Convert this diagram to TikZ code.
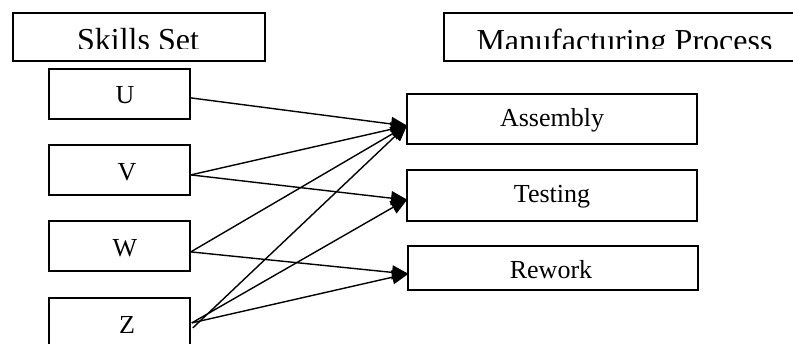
\documentclass[tikz,border=0pt]{standalone}
\usepackage{fontspec}
\setmainfont{Liberation Serif}
\usetikzlibrary{arrows.meta}
\begin{document}
\begin{tikzpicture}[x=1pt,y=-1pt,
  box/.style={draw,line width=1.8pt,inner sep=0pt,anchor=north west},
  lbl/.style={inner sep=0pt,anchor=base,font=\fontsize{26}{26}\selectfont},
  hdr/.style={inner sep=0pt,anchor=base,font=\fontsize{32}{32}\selectfont},
  arr/.style={line width=1.4pt,shorten >=-2pt,-{Triangle[length=17pt,width=14pt]}}]
\clip (0,0) rectangle (793,344);
% headers
\node[box,minimum width=252pt,minimum height=48pt] (skills) at (12,12) {};
\node[box,minimum width=363pt,minimum height=48pt] (mfg) at (443,12) {};
\begin{scope}
  \clip (12,12) rectangle (800,49);
  \node[hdr] (skillst) at (138,51) {Skills Set};
  \node[hdr] (mfgt) at (624.5,52) {Manufacturing Process};
\end{scope}
% left boxes
\node[box,minimum width=141pt,minimum height=50pt] (u) at (48,68) {};
\node[box,minimum width=141pt,minimum height=50pt] (v) at (48,144) {};
\node[box,minimum width=141pt,minimum height=50pt] (w) at (48,220) {};
\node[box,minimum width=141pt,minimum height=50pt] (z) at (48,297) {};
\node[lbl] (ut) at (125,104) {U};
\node[lbl] (vt) at (127,181) {V};
\node[lbl] (wt) at (125,257) {W};
\node[lbl] (zt) at (127,334) {Z};
% right boxes
\node[box,minimum width=290pt,minimum height=50pt] (asm) at (406,93) {};
\node[box,minimum width=290pt,minimum height=51pt] (tst) at (406,169) {};
\node[box,minimum width=290pt,minimum height=44pt] (rwk) at (407,245) {};
\node[lbl] (asmt) at (552,127) {Assembly};
\node[lbl] (tstt) at (552,203) {Testing};
\node[lbl] (rwkt) at (551,279) {Rework};
% connectors
\draw[arr] ([yshift=-4pt]u.east) -- ([yshift=-7pt]asm.west);
\draw[arr] ([yshift=-5pt]v.east) -- ([yshift=-7pt]asm.west);
\draw[arr] ([yshift=-5pt]v.east) -- ([yshift=-4.5pt]tst.west);
\draw[arr] ([yshift=-6pt]w.east) -- ([yshift=-7pt]asm.west);
\draw[arr] ([yshift=-6pt]w.east) -- ([yshift=-6pt]rwk.west);
\draw[arr] ([xshift=2pt,yshift=-5pt]z.east) -- ([yshift=-7pt]asm.west);
\draw[arr] ([xshift=1pt]z.east) -- ([yshift=-4.5pt]tst.west);
\draw[arr] ([xshift=1pt]z.east) -- ([yshift=-6pt]rwk.west);
\end{tikzpicture}
\end{document}
